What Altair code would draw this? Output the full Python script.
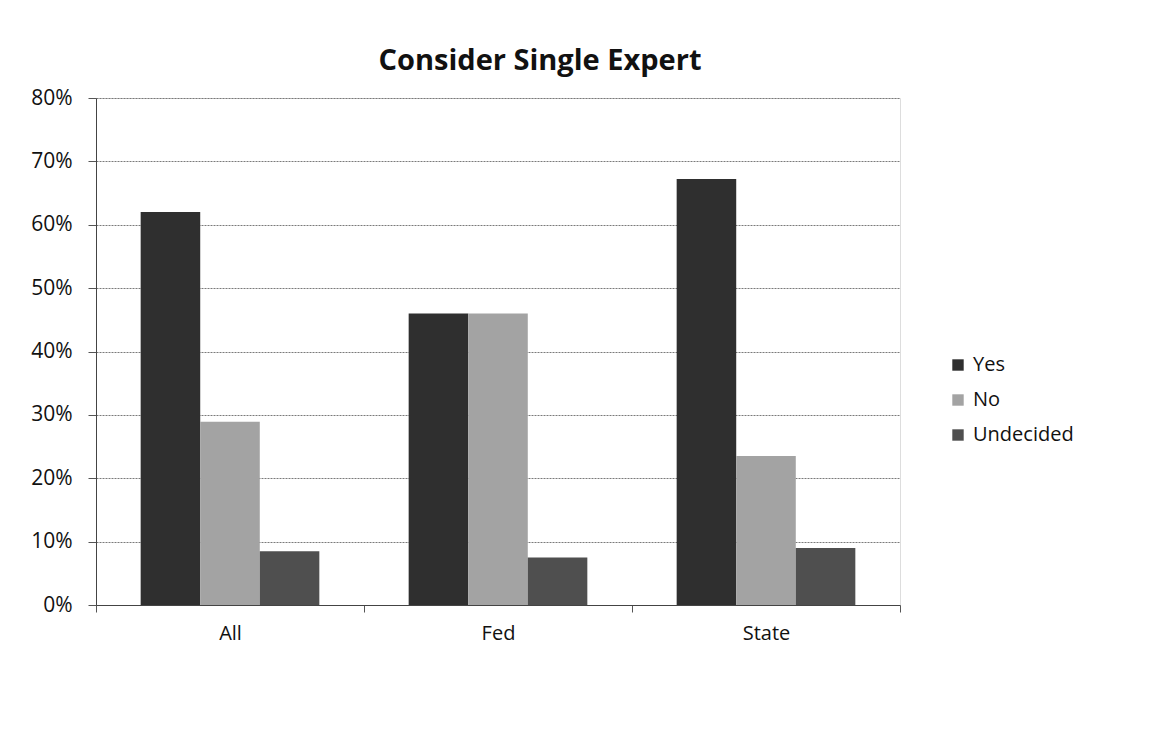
import altair as alt
import pandas as pd

categories = ["All", "Fed", "State"]
series = ["Yes", "No", "Undecided"]
yes_vals = [0.62, 0.46, 0.672]
no_vals = [0.289, 0.46, 0.235]
und_vals = [0.085, 0.075, 0.09]
colors = ["#2f2f2f", "#a3a3a3", "#4f4f4f"]

rows = []
for i, c in enumerate(categories):
    for s, vals in zip(series, [yes_vals, no_vals, und_vals]):
        rows.append({"group": c, "series": s, "value": vals[i]})
df = pd.DataFrame(rows)

FONT = "Open Sans"

chart = alt.Chart(df).mark_bar().encode(
    x=alt.X("group:N", sort=categories, title=None,
            scale=alt.Scale(paddingInner=0, paddingOuter=0),
            axis=alt.Axis(labelAngle=0, tickBand="extent", labelFontSize=20,
                          labelFont=FONT, labelColor="#111", labelPadding=11,
                          tickSize=7, tickColor="#555", domainColor="#444",
                          grid=False)),
    xOffset=alt.XOffset("series:N", sort=series,
                        scale=alt.Scale(paddingInner=0, paddingOuter=0.75)),
    y=alt.Y("value:Q", title=None,
            scale=alt.Scale(domain=[0, 0.8], nice=False),
            axis=alt.Axis(format=".0%", values=[0, .1, .2, .3, .4, .5, .6, .7, .8],
                          labelFontSize=21, labelFont=FONT, labelColor="#111",
                          labelPadding=16, tickSize=8, tickColor="#555",
                          domainColor="#444", gridColor="#7a7a7a",
                          gridDash=[2, 1])),
    color=alt.Color("series:N", sort=series,
                    scale=alt.Scale(domain=series, range=colors),
                    legend=alt.Legend(title=None, orient="none", legendX=852,
                                      legendY=257, symbolType="square",
                                      symbolSize=130, symbolStrokeWidth=0,
                                      labelFontSize=20, labelFont=FONT,
                                      labelColor="#111", rowPadding=15,
                                      labelOffset=5)),
).properties(
    width=804, height=507,
    title=alt.Title("Consider Single Expert", fontSize=29, font=FONT,
                    fontWeight="bold", color="#111", offset=11, anchor="middle",
                    dx=42),
    autosize=alt.AutoSizeParams(type="none"),
    padding={"left": 88, "top": 90, "right": 244, "bottom": 129},
).configure_view(stroke=None).configure(background="white")

chart.save("out.html", embed_options={"renderer": "svg", "actions": False})
